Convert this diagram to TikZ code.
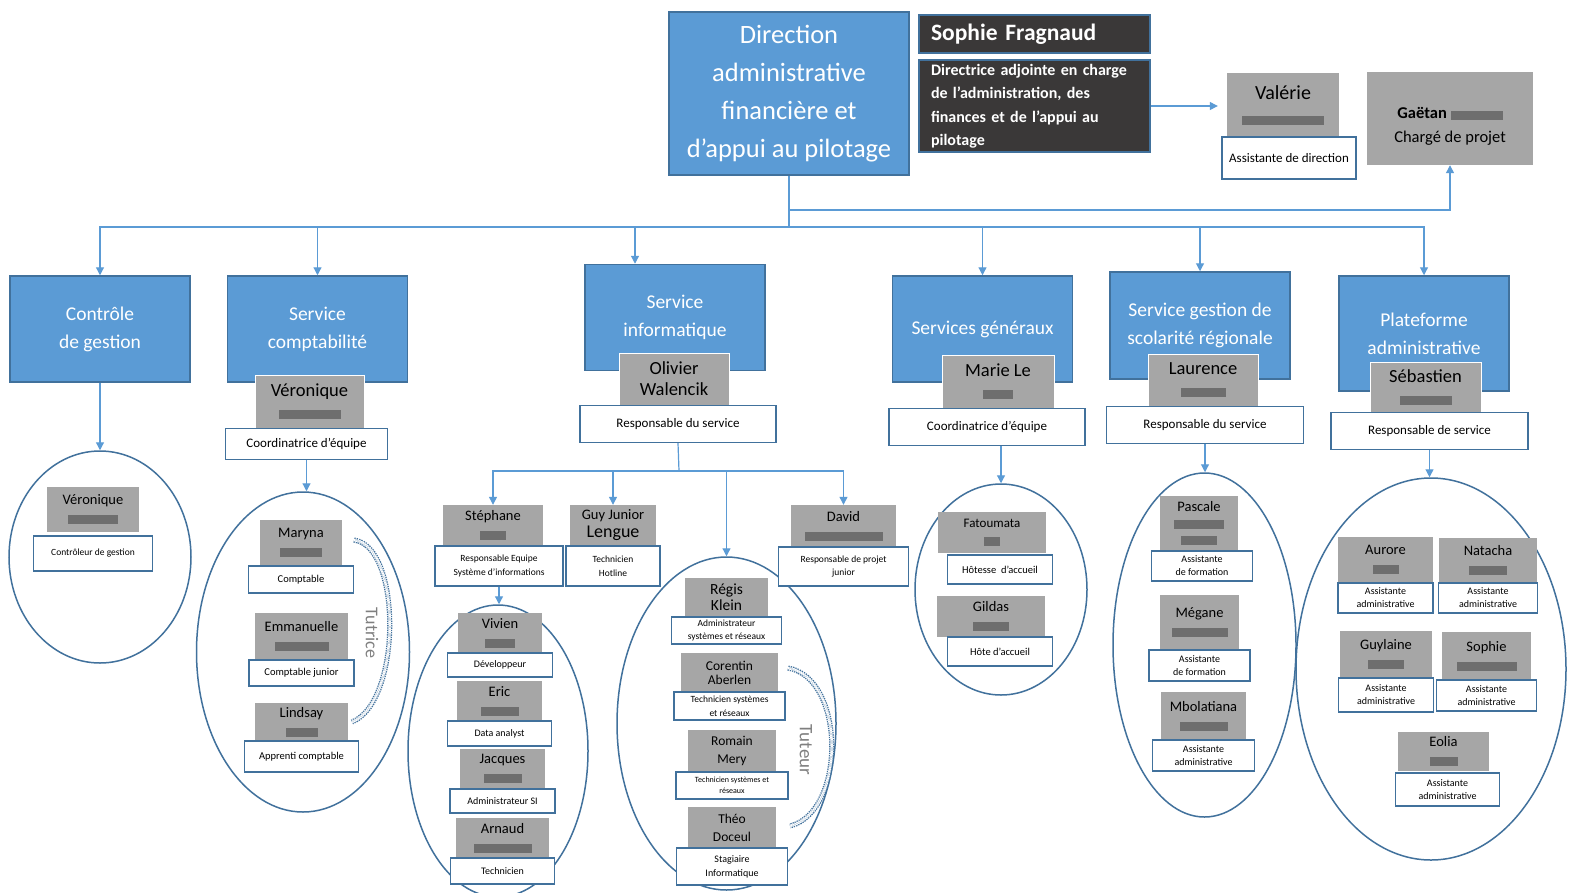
\documentclass[tikz,border=0pt]{standalone}
\usepackage{fontspec}
\setmainfont{Carlito}
\usetikzlibrary{shapes.geometric, arrows.meta, positioning}
\definecolor{boxblue}{HTML}{5B9BD5}
\definecolor{edgeblue}{HTML}{41719C}
\definecolor{cardgray}{HTML}{A6A6A6}
\definecolor{blurgray}{HTML}{6E6E6E}
\definecolor{darkbox}{HTML}{3A3838}
\definecolor{notegray}{HTML}{7F7F7F}
\newcommand{\blurred}[1]{{\color{blurgray}\rule[-1.5pt]{#1}{9pt}}}
\tikzset{
  service/.style   = {rectangle, draw=edgeblue, fill=boxblue, line width=1.5pt,
                      text=white, align=center, inner sep=0pt,
                      minimum width=180pt, minimum height=106pt,
                      font=\fontsize{19.5}{28}\selectfont},
  darknote/.style  = {rectangle, draw=edgeblue, fill=darkbox, line width=1.5pt,
                      text=white, align=left, inner sep=0pt,
                      minimum width=231pt, text width=207pt},
  head/.style      = {rectangle, draw=white, fill=cardgray, line width=1pt,
                      align=center, inner sep=0pt, minimum width=110pt,
                      minimum height=52pt, font=\fontsize{18.5}{21}\selectfont},
  headrole/.style  = {rectangle, draw=edgeblue, fill=white, line width=1.6pt,
                      align=center, inner sep=0pt, minimum width=196pt,
                      minimum height=37pt, font=\fontsize{13}{15}\selectfont},
  person/.style    = {rectangle, fill=cardgray, align=center, inner sep=0pt,
                      font=\fontsize{14.5}{18}\selectfont},
  role/.style      = {rectangle, draw=edgeblue, fill=white, line width=1.6pt,
                      align=center, inner sep=0pt,
                      font=\fontsize{10.5}{14}\selectfont},
  team/.style      = {ellipse, draw=edgeblue, line width=1.5pt, inner sep=0pt},
  arrow/.style     = {-{Triangle[length=8pt, width=8pt]}, draw=boxblue, line width=1.2pt},
  link/.style      = {draw=boxblue, line width=1.2pt},
  tutor/.style     = {draw=edgeblue, line width=1.3pt, densely dotted, double=white,
                      double distance=2.5pt},
  tutorlabel/.style= {rotate=-90, text=notegray, font=\fontsize{18}{18}\selectfont},
}

\begin{document}
\begin{tikzpicture}[x=1pt, y=-1pt]

    \fill[white] (0,0) rectangle (1576,892);
    \useasboundingbox (0,0) rectangle (1576,892);

    % teams
    \node[team, minimum width=182pt, minimum height=212pt] (ctrlteam)   at (100,557) {};
    \node[team, minimum width=213pt, minimum height=320pt] (comptateam) at (303,652) {};
    \node[team, minimum width=180pt, minimum height=292pt] (stephteam)  at (498,751) {};
    \node[team, minimum width=219pt, minimum height=333pt] (infoteam)   at (726.5,723.5) {};
    \node[team, minimum width=172pt, minimum height=211pt] (genteam)    at (1001,589.5) {};
    \node[team, minimum width=183pt, minimum height=344pt] (scolteam)   at (1204.5,645) {};
    \node[team, minimum width=270pt, minimum height=382pt] (platteam)   at (1431,669) {};

    % direction
    \node[service, minimum width=240pt, minimum height=163pt,
          font=\fontsize{26.5}{38}\selectfont] (dir) at (789,93.5)
      {Direction\\administrative\\financière et\\d’appui au pilotage};

    \node[darknote, minimum height=38pt,
          font=\bfseries\fontsize{23.5}{25}\selectfont] (sophie) at (1034.5,34)
      {Sophie Fragnaud};

    \node[darknote, minimum height=92pt,
          font=\bfseries\fontsize{16}{23.5}\selectfont] (directrice) at (1034.5,106)
      {Directrice adjointe en charge\\de l’administration, des\\finances et de l’appui au\\pilotage};

    \node[person, minimum width=112pt, minimum height=64pt,
          font=\fontsize{20}{24}\selectfont] (valerie) at (1283,105)
      {Valérie\\\blurred{82pt}};
    \node[role, below=-1pt of valerie, xshift=6pt, minimum width=134pt,
          minimum height=42pt, font=\fontsize{13}{15}\selectfont] (valerierole)
      {Assistante de direction};

    \node[person, minimum width=166pt, minimum height=93pt,
          font=\fontsize{16.5}{24}\selectfont] (gaetan) at (1450,118.5)
      {\rule{0pt}{26pt}\textbf{Gaëtan} \blurred{52pt}\\Chargé de projet};

    % services
    \node[service] (ctrl)   at (100,329)    {Contrôle\\de gestion};
    \node[service] (compta) at (317.5,329)  {Service\\comptabilité};
    \node[service] (info)   at (675,317.5)  {Service\\informatique};
    \node[service] (gen)    at (982.5,329)  {Services généraux};
    \node[service, minimum height=107pt] (scol) at (1200,325.5)
      {Service gestion de\\scolarité régionale};
    \node[service, minimum width=170pt, minimum height=115pt] (plat) at (1424,333.5)
      {Plateforme\\administrative};

    % service heads
    \node[head, minimum width=109pt, minimum height=53pt] (comptahead) at (309.5,401.5)
      {Véronique\\\blurred{62pt}};
    \node[headrole, below=-1pt of comptahead, xshift=-3pt, minimum width=162pt,
          minimum height=31pt] (comptarole) {Coordinatrice d’équipe};

    \node[head] (infohead) at (674,379) {Olivier\\Walencik};
    \node[headrole, below=-1pt of infohead, xshift=4pt] (inforole) {Responsable du service};

    \node[head, minimum width=112pt, minimum height=53pt] (genhead) at (998,381.5)
      {Marie Le\\\blurred{30pt}};
    \node[headrole, below=-1pt of genhead, xshift=-11pt] (genrole) {Coordinatrice d’équipe};

    \node[head] (scolhead) at (1203,380) {Laurence\\\blurred{45pt}};
    \node[headrole, below=-1pt of scolhead, xshift=2pt, minimum width=197pt]
      (scolrole) {Responsable du service};

    \node[head, minimum width=111pt, minimum height=50pt] (plathead) at (1425.5,387)
      {Sébastien\\\blurred{52pt}};
    \node[headrole, below=-1pt of plathead, xshift=4pt, minimum width=197pt]
      (platrole) {Responsable de service};

    % controle de gestion
    \node[person, minimum width=92pt, minimum height=45pt] (veronique) at (93,509.5)
      {Véronique\\\blurred{50pt}};
    \node[role, below=3pt of veronique, minimum width=119pt, minimum height=35pt,
          font=\fontsize{9.5}{12}\selectfont] (veroniquerole) {Contrôleur de gestion};

    % comptabilite
    \node[person, minimum width=82pt, minimum height=46pt] (maryna) at (301,543)
      {Maryna\\\blurred{42pt}};
    \node[role, below=-1pt of maryna, minimum width=105pt, minimum height=27pt]
      (marynarole) {Comptable};
    \node[person, minimum width=93pt, minimum height=47pt] (emmanuelle) at (301.5,636.5)
      {Emmanuelle\\\blurred{54pt}};
    \node[role, below=-1pt of emmanuelle, minimum width=105pt, minimum height=26pt]
      (emmanuellerole) {Comptable junior};
    \node[person, minimum width=93pt, minimum height=38pt] (lindsay) at (301.5,722)
      {Lindsay\\\blurred{32pt}};
    \node[role, below=-1pt of lindsay, minimum width=114pt, minimum height=31pt]
      (lindsayrole) {Apprenti comptable};

    % informatique
    \node[person, minimum width=100pt, minimum height=41pt] (stephane) at (493,525.5)
      {Stéphane\\\blurred{26pt}};
    \node[role, below=-1pt of stephane, xshift=6pt, minimum width=128pt, minimum height=40pt,
          font=\fontsize{9.5}{13.5}\selectfont] (stephanerole)
      {Responsable Equipe\\Système d’informations};
    \node[person, minimum width=86pt, minimum height=41pt] (guy) at (613,525.5)
      {Guy Junior\\{\fontsize{18}{18}\selectfont Lengue}};
    \node[role, below=-1pt of guy, minimum width=94pt, minimum height=40pt,
          font=\fontsize{9.5}{13.5}\selectfont] (guyrole) {Technicien\\Hotline};
    \node[person, minimum width=105pt, minimum height=42pt] (david) at (843.5,526)
      {David\\\blurred{78pt}};
    \node[role, below=-1pt of david, minimum width=130pt, minimum height=39pt,
          font=\fontsize{9.5}{13.5}\selectfont] (davidrole) {Responsable de projet\\junior};

    \node[person, minimum width=84pt, minimum height=40pt] (vivien) at (500,633)
      {Vivien\\\blurred{30pt}};
    \node[role, below=-1pt of vivien, minimum width=105pt, minimum height=24pt,
          font=\fontsize{10}{12}\selectfont] (vivienrole) {Développeur};
    \node[person, minimum width=85pt, minimum height=40pt] (eric) at (499.5,701)
      {Eric\\\blurred{38pt}};
    \node[role, below=-1pt of eric, minimum width=104pt, minimum height=25pt,
          font=\fontsize{10}{12}\selectfont] (ericrole) {Data analyst};
    \node[person, minimum width=85pt, minimum height=40pt] (jacques) at (502.5,769)
      {Jacques\\\blurred{38pt}};
    \node[role, below=-1pt of jacques, minimum width=105pt, minimum height=24pt,
          font=\fontsize{10}{12}\selectfont] (jacquesrole) {Administrateur SI};
    \node[person, minimum width=93pt, minimum height=40pt] (arnaud) at (502.5,838)
      {Arnaud\\\blurred{58pt}};
    \node[role, below=-1pt of arnaud, minimum width=104pt, minimum height=26pt,
          font=\fontsize{10}{12}\selectfont] (arnaudrole) {Technicien};

    \node[person, minimum width=83pt, minimum height=39pt,
          font=\fontsize{15.5}{16}\selectfont] (regis) at (726.5,597.5) {Régis\\Klein};
    \node[role, below=-1pt of regis, minimum width=110pt, minimum height=27pt,
          font=\fontsize{9.5}{13.5}\selectfont] (regisrole)
      {Administrateur\\systèmes et réseaux};
    \node[person, minimum width=97pt, minimum height=39pt,
          font=\fontsize{13.5}{14}\selectfont] (corentin) at (729.5,672.5) {Corentin\\Aberlen};
    \node[role, below=-1pt of corentin, minimum width=111pt, minimum height=28pt,
          font=\fontsize{9.5}{13.5}\selectfont] (corentinrole)
      {Technicien systèmes\\et réseaux};
    \node[person, minimum width=88pt, minimum height=42pt,
          font=\fontsize{13.5}{18}\selectfont] (romain) at (732,751) {Romain\\Mery};
    \node[role, below=-1pt of romain, minimum width=112pt, minimum height=27pt,
          font=\fontsize{8}{11}\selectfont] (romainrole)
      {Technicien systèmes et\\réseaux};
    \node[person, minimum width=88pt, minimum height=41pt,
          font=\fontsize{13.5}{18}\selectfont] (theo) at (732,827.5) {Théo\\Doceul};
    \node[role, below=-1pt of theo, minimum width=111pt, minimum height=37pt,
          font=\fontsize{10}{14}\selectfont] (theorole) {Stagiaire\\Informatique};

    % services generaux
    \node[person, minimum width=108pt, minimum height=41pt,
          font=\fontsize{13}{17}\selectfont] (fatoumata) at (992,532.5)
      {Fatoumata\\\blurred{16pt}};
    \node[role, below=1pt of fatoumata, xshift=8pt, minimum width=105pt, minimum height=29pt]
      (fatoumatarole) {Hôtesse\ \ d’accueil};
    \node[person, minimum width=108pt, minimum height=41pt] (gildas) at (991,616.5)
      {Gildas\\\blurred{36pt}};
    \node[role, below=-1pt of gildas, xshift=9pt, minimum width=105pt, minimum height=29pt]
      (gildasrole) {Hôte d’accueil};

    % scolarite
    \node[person, minimum width=78pt, minimum height=55pt,
          font=\fontsize{14.5}{16}\selectfont] (pascale) at (1199,523.5)
      {Pascale\\\blurred{50pt}\\\blurred{36pt}};
    \node[role, below=-1pt of pascale, xshift=3pt, minimum width=101pt, minimum height=30pt,
          font=\fontsize{10}{13}\selectfont] (pascalerole) {Assistante\\de formation};
    \node[person, minimum width=79pt, minimum height=55pt] (megane) at (1199.5,622.5)
      {Mégane\\\blurred{56pt}};
    \node[role, below=-1pt of megane, minimum width=101pt, minimum height=31pt,
          font=\fontsize{10}{13}\selectfont] (meganerole) {Assistante\\de formation};
    \node[person, minimum width=85pt, minimum height=48pt] (mbolatiana) at (1203.5,716)
      {Mbolatiana\\\blurred{48pt}};
    \node[role, below=-1pt of mbolatiana, minimum width=102pt, minimum height=31pt,
          font=\fontsize{10}{13}\selectfont] (mbolatianarole) {Assistante\\administrative};

    % plateforme
    \node[person, minimum width=95pt, minimum height=46pt] (aurore) at (1385.5,560)
      {Aurore\\\blurred{26pt}};
    \node[role, below=-1pt of aurore, minimum width=95pt, minimum height=30pt,
          font=\fontsize{10}{13}\selectfont] (aurorerole) {Assistante\\administrative};
    \node[person, minimum width=98pt, minimum height=45pt] (natacha) at (1488,560.5)
      {Natacha\\\blurred{38pt}};
    \node[role, below=-1pt of natacha, minimum width=99pt, minimum height=30pt,
          font=\fontsize{10}{13}\selectfont] (natacharole) {Assistante\\administrative};
    \node[person, minimum width=92pt, minimum height=47pt] (guylaine) at (1386,654.5)
      {Guylaine\\\blurred{36pt}};
    \node[role, below=-1pt of guylaine, minimum width=95pt, minimum height=34pt,
          font=\fontsize{10}{13}\selectfont] (guylainerole) {Assistante\\administrative};
    \node[person, minimum width=89pt, minimum height=48pt] (sophiepa) at (1486.5,656)
      {Sophie\\\blurred{60pt}};
    \node[role, below=-1pt of sophiepa, minimum width=100pt, minimum height=31pt,
          font=\fontsize{10}{13}\selectfont] (sophiepanrole) {Assistante\\administrative};
    \node[person, minimum width=91pt, minimum height=39pt] (eolia) at (1443.5,751.5)
      {Eolia\\\blurred{28pt}};
    \node[role, below=1pt of eolia, xshift=4pt, minimum width=104pt, minimum height=33pt,
          font=\fontsize{10}{13}\selectfont] (eoliarole) {Assistante\\administrative};

    % tutoring
    \coordinate (tutstart) at (354,540);
    \coordinate (tutend)   at (352,722);
    \draw[tutor] (tutstart) .. controls (402,546) and (402,702) .. (tutend);
    \node[tutorlabel] (tutrice) at (372,633) {Tutrice};

    \coordinate (tuteurstart) at (788,668);
    \coordinate (tuteurend)   at (790,826);
    \draw[tutor] (tuteurstart) .. controls (846,678) and (846,812) .. (tuteurend);
    \node[tutorlabel, font=\fontsize{19}{19}\selectfont] (tuteur) at (806,750) {Tuteur};

    % connectors
    \coordinate (split)   at (789,210);
    \coordinate (bus)     at (789,227);
    \coordinate (infobus) at (679,471);

    \draw[arrow] (directrice.east) -- ([xshift=-9pt]directrice.east -| valerie.west);
    \draw[arrow] (dir.south) -- (split) -| (gaetan.south);
    \draw[link]  (split) -- (bus);
    \foreach \svc in {ctrl, compta, gen, scol, plat}
      \draw[arrow] (bus) -| (\svc.north);
    \draw[arrow] (bus) -| ([xshift=-40pt]info.north);

    \draw[arrow] (ctrl.south) -- (ctrlteam.north);
    \draw[arrow] (comptarole.south) -- (comptarole.south |- comptateam.north);
    \draw[link]  (inforole.south) -- (infobus);
    \foreach \who in {stephane, guy, david, infoteam}
      \draw[arrow] (infobus) -| (\who.north);
    \draw[arrow] (stephanerole.south) -- (stephanerole.south |- stephteam.north);
    \draw[arrow] (genrole.south -| genteam.north) -- (genteam.north);
    \draw[arrow] (scolrole.south) -- (scolrole.south |- scolteam.north);
    \draw[arrow] (platrole.south) -- (platrole.south |- platteam.north);

  \end{tikzpicture}
\end{document}
